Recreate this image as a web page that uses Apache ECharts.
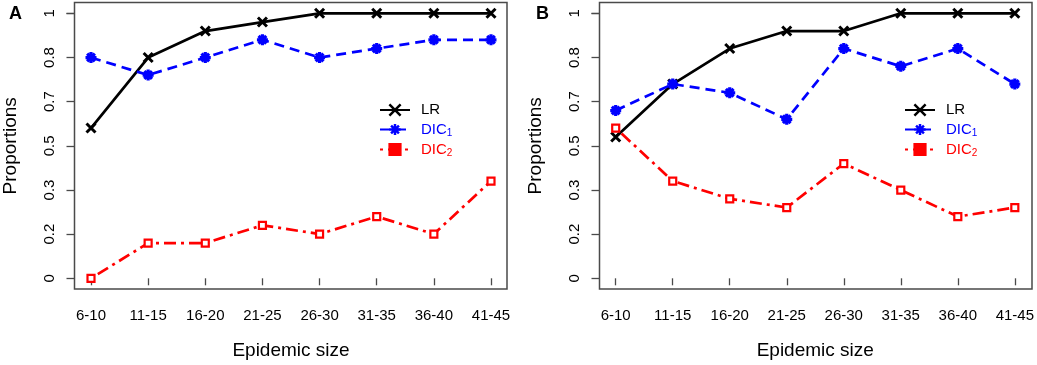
<!DOCTYPE html>
<html>
<head>
<meta charset="utf-8">
<script src="https://cdn.jsdelivr.net/npm/echarts@6/dist/echarts.min.js"></script>
<style>
html,body{margin:0;padding:0;background:#fff;}
#chart{width:1037px;height:365px;}
</style>
</head>
<body>
<div id="chart"></div>
<script>
// ---- data ----
const categories = ['6-10','11-15','16-20','21-25','26-30','31-35','36-40','41-45'];
const yTickLabels = ['0','0.2','0.3','0.5','0.7','0.8','1'];
const seriesNames = ['LR','DIC1','DIC2'];
const lrA   = [0.567,0.833,0.933,0.967,1,1,1,1];
const dic1A = [0.833,0.767,0.833,0.9,0.833,0.867,0.9,0.9];
const dic2A = [0,0.133,0.133,0.2,0.167,0.233,0.167,0.367];
const lrB   = [0.533,0.733,0.867,0.933,0.933,1,1,1];
const dic1B = [0.633,0.733,0.7,0.6,0.867,0.8,0.867,0.733];
const dic2B = [0.567,0.367,0.3,0.267,0.433,0.333,0.233,0.267];
const panelLabels = ['A','B'];
const xTitle = 'Epidemic size';
const yTitle = 'Proportions';

// ---- styling ----
const FONT = 'Liberation Sans, Arial, Helvetica, sans-serif';
const FRAME = '#4a4a4a';
const styles = {
  LR:   {color:'#000000', symbol:'path://M0,0L10,10M10,0L0,10', size:9, dash:'solid', fill:'none', bw:3},
  DIC1: {color:'#0000ff', symbol:'path://M5,0L5,10M0,5L10,5M1.5,1.5L8.5,8.5M8.5,1.5L1.5,8.5', size:11, dash:[10,6], fill:'#0000ff', bw:3.2},
  DIC2: {color:'#ff0000', symbol:'rect', size:7, dash:[3,5,12,5], fill:'#ffffff', bw:2.2}
};

const panels = [
  {frameLeft:74.5, innerLeft:91, frameWidth:432.5, data:[lrA,dic1A,dic2A], label:panelLabels[0], labelLeft:4, legendLeft:379},
  {frameLeft:599.5, innerLeft:615.7, frameWidth:432.5, data:[lrB,dic1B,dic2B], label:panelLabels[1], labelLeft:531, legendLeft:904}
];
const frameTop = 2.5, frameHeight = 286.5, innerTop = 13.3, innerHeight = 265, innerWidth = 400;

const grid = [], xAxis = [], yAxis = [], series = [], title = [], legend = [];

panels.forEach((p, i) => {
  const gFrame = grid.length;
  grid.push({left:p.frameLeft, top:frameTop, width:p.frameWidth, height:frameHeight,
    show:true, borderColor:FRAME, borderWidth:1.5, backgroundColor:'transparent', containLabel:false});
  const gInner = grid.length;
  grid.push({left:p.innerLeft, top:innerTop, width:innerWidth, height:innerHeight, show:false, containLabel:false});

  xAxis.push({gridIndex:gFrame, type:'value', show:false, min:0, max:1});
  yAxis.push({gridIndex:gFrame, type:'value', show:false, min:0, max:1});

  const xi = xAxis.length;
  xAxis.push({
    gridIndex:gInner, type:'category', data:categories, boundaryGap:false,
    offset: (frameTop+frameHeight) - (innerTop+innerHeight),
    axisLine:{show:false},
    axisTick:{show:true, length:7, inside:false, lineStyle:{color:FRAME, width:1.3}},
    axisLabel:{show:true, interval:0, margin:19, fontSize:15, color:'#000', fontFamily:FONT},
    splitLine:{show:false},
    name:xTitle, nameLocation:'middle', nameGap:52,
    nameTextStyle:{fontSize:19, color:'#000', fontFamily:FONT}
  });
  const yi = yAxis.length;
  yAxis.push({
    gridIndex:gInner, type:'value', min:0, max:1, interval:1/6,
    offset: p.innerLeft - p.frameLeft,
    axisLine:{show:false},
    axisTick:{show:true, length:8, inside:false, lineStyle:{color:FRAME, width:1.3}},
    axisLabel:{show:true, rotate:90, margin:17, fontSize:15, color:'#000', fontFamily:FONT,
      formatter:(v, idx) => yTickLabels[idx] !== undefined ? yTickLabels[idx] : ''},
    splitLine:{show:false},
    name:yTitle, nameLocation:'middle', nameGap:54,
    nameTextStyle:{fontSize:19, color:'#000', fontFamily:FONT}
  });

  seriesNames.forEach((nm, k) => {
    const s = styles[nm];
    series.push({
      name:nm, type:'line', xAxisIndex:xi, yAxisIndex:yi, data:p.data[k],
      symbol:s.symbol, symbolSize:s.size, showAllSymbol:true, clip:false,
      lineStyle:{color:s.color, width:2.7, type:s.dash},
      itemStyle:{color:s.fill, borderColor:s.color, borderWidth:s.bw},
      emphasis:{disabled:true}, animation:false, z:2+k
    });
  });

  title.push({text:p.label, left:p.labelLeft, top:0,
    textStyle:{fontSize:18, fontWeight:'bold', color:'#000', fontFamily:FONT}});

  legend.push({
    orient:'vertical', left:p.legendLeft, top:102, padding:0,
    itemWidth:30, itemHeight:14, itemGap:3,
    selectedMode:false,
    data:[
      {name:'LR', itemStyle:{color:'#000', borderColor:'#000', borderWidth:2.5}},
      {name:'DIC1', itemStyle:{color:'#0000ff', borderColor:'#0000ff', borderWidth:2.5}},
      {name:'DIC2', itemStyle:{color:'#ff0000', borderColor:'#ff0000', borderWidth:2}}
    ],
    formatter:(name) => {
      if (name === 'LR') return '{k|LR}';
      if (name === 'DIC1') return '{b|DIC}{bs|1}';
      return '{r|DIC}{rs|2}';
    },
    textStyle:{
      fontFamily:FONT, fontSize:15, padding:[0,0,0,6], lineHeight:16,
      rich:{
        k:{color:'#000', fontSize:15, fontFamily:FONT, lineHeight:16},
        b:{color:'#0000ff', fontSize:15, fontFamily:FONT, lineHeight:16},
        bs:{color:'#0000ff', fontSize:10, fontFamily:FONT, lineHeight:10, padding:[7,0,0,0]},
        r:{color:'#ff0000', fontSize:15, fontFamily:FONT, lineHeight:16},
        rs:{color:'#ff0000', fontSize:10, fontFamily:FONT, lineHeight:10, padding:[7,0,0,0]}
      }
    }
  });
});

const chart = echarts.init(document.getElementById('chart'), null, {renderer:'canvas'});
chart.setOption({
  animation:false,
  backgroundColor:'#fff',
  textStyle:{fontFamily:FONT},
  title, legend, grid, xAxis, yAxis, series
});
</script>
</body>
</html>
